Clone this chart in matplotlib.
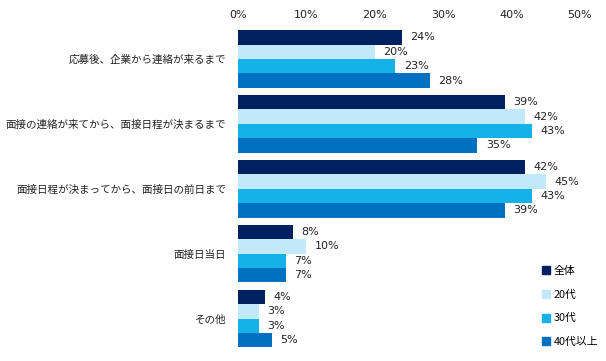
import matplotlib
matplotlib.use("Agg")
import matplotlib.pyplot as plt
from matplotlib.lines import Line2D
import numpy as np

plt.rcParams['font.family'] = ['Noto Sans CJK JP', 'DejaVu Sans']

categories = ['応募後、企業から連絡が来るまで',
              '面接の連絡が来てから、面接日程が決まるまで',
              '面接日程が決まってから、面接日の前日まで',
              '面接日当日',
              'その他']
series = ['全体', '20代', '30代', '40代以上']
values = [
    [24, 39, 42, 8, 4],
    [20, 42, 45, 10, 3],
    [23, 43, 43, 7, 3],
    [28, 35, 39, 7, 5],
]
colors = ['#002060', '#c1e9f9', '#14b2e8', '#0070c0']
xticks = [0, 10, 20, 30, 40, 50]

fig = plt.figure(figsize=(6.06, 3.61), dpi=100)
ax = fig.add_axes([238 / 606, 1 - 351 / 361, (580 - 238) / 606, (351 - 26.5) / 361])

bh = 14.4 / 65
y = np.arange(len(categories))
for i, (name, vals) in enumerate(zip(series, values)):
    pos = y - 1.5 * bh + i * bh
    ax.barh(pos, vals, height=bh, color=colors[i], label=name)
    for p, v in zip(pos, vals):
        ax.annotate(f'{v}%', (v, p), xytext=(6, 0), textcoords='offset points',
                    ha='left', va='center', fontsize=8, color='#222222',
                    family='DejaVu Sans')

ax.set_xlim(0, 50)
ax.set_ylim(len(categories) - 0.5, -0.5)
ax.xaxis.tick_top()
ax.set_xticks(xticks)
ax.set_xticklabels([f'{t}%' for t in xticks], fontsize=8, family='DejaVu Sans',
                   color='#222222')
ax.tick_params(axis='x', length=0, pad=5)
ax.set_yticks(y)
ax.set_yticklabels(categories, fontsize=7.6, color='#222222')
ax.tick_params(axis='y', length=0, pad=8.5)
for s in ax.spines.values():
    s.set_visible(False)

handles = [Line2D([], [], marker='s', linestyle='none', markersize=5.5,
                  markerfacecolor=c, markeredgecolor=c) for c in colors]
fig.legend(handles, series, loc='lower left', bbox_to_anchor=(541 / 606, 1 - 347 / 361),
           frameon=False, fontsize=7.8, handletextpad=0.15, labelspacing=1.25,
           handlelength=1.0, borderpad=0, borderaxespad=0)

fig.savefig('out.png', dpi=100)
